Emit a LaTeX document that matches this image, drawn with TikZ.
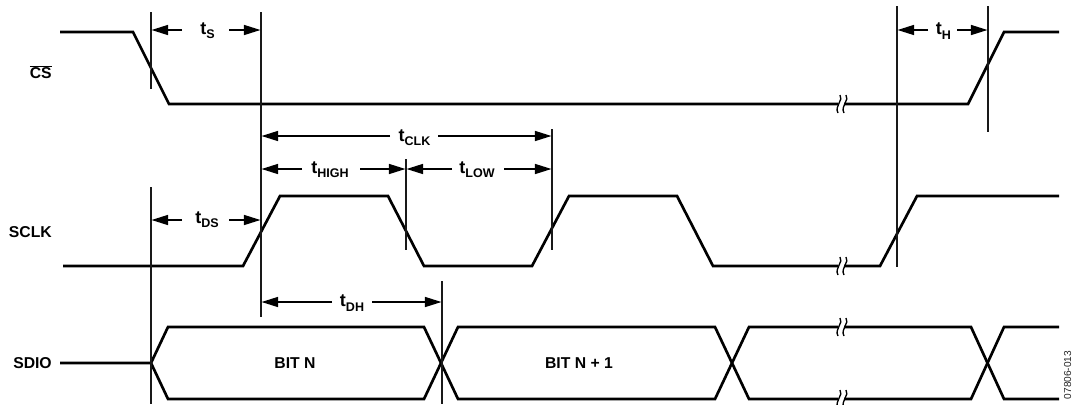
\documentclass[tikz,border=0pt]{standalone}
\usepackage{fontspec}
\setmainfont{Liberation Sans}
\usetikzlibrary{arrows.meta}
\tikzset{
  x=0.75pt,y=-0.75pt,
  wave/.style={line width=2pt,line join=miter,black},
  guide/.style={line width=0.8pt,black!90},
  dim/.style={line width=1.25pt,-{Triangle[length=12.5pt,width=7.5pt]}},
  lab/.style={font=\bfseries\fontsize{11.8pt}{14pt}\selectfont,inner sep=0pt,text=black},
  tlab/.style={font=\bfseries\fontsize{13.5pt}{15pt}\selectfont,inner sep=0pt,text=black},
  brk/.style={line width=1pt,black},
  code/.style={font=\fontsize{7.6pt}{8pt}\selectfont,inner sep=0pt,text=black!85,rotate=90}
}
\newcommand{\tsym}[1]{t\raisebox{-3.2pt}{\fontsize{9.4pt}{10pt}\selectfont #1}}
\newcommand{\brkmark}[2]{%
  \fill[white] (#1-3,#2-4) rectangle (#1+3,#2+4);
  \draw[brk] (#1-1,#2-9) .. controls (#1+3,#2-4) and (#1-7,#2+2) .. (#1-3,#2+9);
  \draw[brk] (#1+5,#2-9) .. controls (#1+9,#2-4) and (#1-1,#2+2) .. (#1+3,#2+9);
}
\begin{document}
\begin{tikzpicture}
\useasboundingbox (0,0) rectangle (1073,404);
% waveforms
\draw[wave] (60,32) -- (133,32) -- (169,104) -- (968,104) -- (1004,32) -- (1059,32);
\draw[wave] (63,266) -- (243,266) -- (280,196) -- (388,196) -- (424,266) -- (532,266) -- (569,196) -- (677,196) -- (713,266) -- (880,266) -- (917,196) -- (1059,196);
\draw[wave] (60,363) -- (151,363) -- (168,327) -- (424,327) -- (458,399) -- (715,399) -- (749,327) -- (971,327) -- (1004,399) -- (1059,399);
\draw[wave] (151,363) -- (168,399) -- (424,399) -- (458,327) -- (715,327) -- (749,399) -- (971,399) -- (1004,327) -- (1059,327);
% breaks
\brkmark{841}{104}
\brkmark{841}{266}
\brkmark{841}{327}
\brkmark{841}{399}
% guides
\draw[guide] (151,12) -- (151,89);
\draw[guide] (151,187) -- (151,404);
\draw[guide] (261,12) -- (261,317);
\draw[guide] (897,6) -- (897,267);
\draw[guide] (988,6) -- (988,132);
\draw[guide] (406,159) -- (406,250);
\draw[guide] (552,129) -- (552,250);
\draw[guide] (442,281) -- (442,404);
% dimension labels
\node[tlab] (ts) at (207.5,31) {\tsym{S}};
\node[tlab] (th) at (943.5,31) {\tsym{H}};
\node[tlab] (tclk) at (414.5,138) {\tsym{CLK}};
\node[tlab] (thigh) at (330,170) {\tsym{HIGH}};
\node[tlab] (tlow) at (477,170) {\tsym{LOW}};
\node[tlab] (tds) at (207,220) {\tsym{DS}};
\node[tlab] (tdh) at (352,303) {\tsym{DH}};
% dimension arrows
\draw[dim] (182,30) -- (151.5,30);
\draw[dim] (229,30) -- (260.5,30);
\draw[dim] (928,30) -- (897.5,30);
\draw[dim] (957,30) -- (987.5,30);
\draw[dim] (390,136) -- (261.5,136);
\draw[dim] (438,136) -- (551.5,136);
\draw[dim] (302,169) -- (261.5,169);
\draw[dim] (360,169) -- (405.5,169);
\draw[dim] (452,169) -- (406.5,169);
\draw[dim] (504,169) -- (551.5,169);
\draw[dim] (182,220) -- (151.5,220);
\draw[dim] (229,220) -- (260.5,220);
\draw[dim] (332,302) -- (261.5,302);
\draw[dim] (372,302) -- (441.5,302);
% signal labels
\node[lab,anchor=east] (cs) at (52,72) {$\overline{\mbox{CS}}$};
\node[lab,anchor=east] (sclk) at (52,232) {SCLK};
\node[lab,anchor=east] (sdio) at (52,363.5) {SDIO};
\node[lab] (bitn) at (295,363.5) {BIT N};
\node[lab] (bitn1) at (579,363.5) {BIT N + 1};
\node[code] (fig) at (1067.5,375) {07806-013};
\end{tikzpicture}
\end{document}
